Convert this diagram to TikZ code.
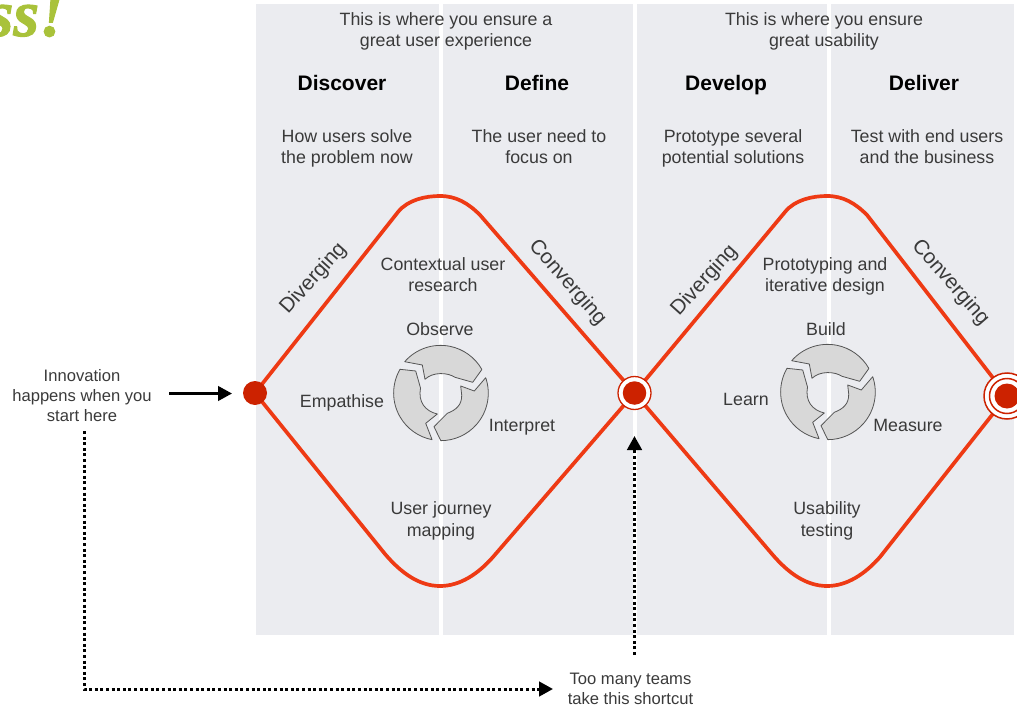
\documentclass[tikz,border=0pt]{standalone}
\usepackage{fontspec}
\setmainfont{Liberation Sans}
\newfontfamily\greenfont[BoldItalicFeatures={FakeBold=1.5}]{Liberation Serif}
\usetikzlibrary{backgrounds,arrows.meta}
\definecolor{panelc}{HTML}{EBECF0}
\definecolor{linered}{HTML}{EE3A14}
\definecolor{dotred}{HTML}{CC2200}
\definecolor{txt}{HTML}{3A3A3A}
\definecolor{gearc}{HTML}{D8D8D8}
\definecolor{gearl}{HTML}{555555}
\definecolor{ssgreen}{HTML}{A9C23A}
\tikzset{
 x=1pt,y=-1pt,
 panel/.style={fill=panelc,draw=none},
 base/.style={align=center,inner sep=0,execute at begin node=\strut,execute at end node=\strut},
 lbl/.style={base,yshift=-2.6pt,text=txt,font=\fontsize{17.8}{21.3}\selectfont},
 diag/.style={base,text=txt,font=\fontsize{20.8}{24}\selectfont},
 small/.style={base,yshift=-2.4pt,text=txt,font=\fontsize{16.6}{20}\selectfont},
 head/.style={base,yshift=-3pt,text=black,font=\bfseries\fontsize{21}{24}\selectfont},
 redline/.style={draw=linered,line width=3.7pt,line join=round},
 gearpart/.style={fill=gearc,draw=gearl,line width=.8pt,line join=round},
 blackarrow/.style={draw=black,line width=2.7pt,-{Triangle[length=14pt,width=14.5pt]}},
 dotarrow/.style={draw=black,line width=3pt,dash pattern=on 3pt off 2.6pt,-{Triangle[length=14pt,width=14.5pt]}},
 reddot/.style={circle,fill=dotred,inner sep=0,minimum size=#1},
}
\newcommand{\gearat}[2]{%
 \begin{scope}[shift={(#1,#2)}]
  \draw[gearpart] (-36.3,-31.3) arc[start angle=221,end angle=330.5,radius=47.5] -- (31.7,-10.7) -- (14,-15.7) .. controls (7,-20.5) and (-8,-21.5) .. (-16,-13.7) -- (-18.7,-28) -- cycle;
  \draw[gearpart] (44.7,-15.3) arc[start angle=-19,end angle=90,radius=47.5] -- (-7,33.7) -- (6.3,20.3) .. controls (15,17) and (21,12) .. (20.7,2) -- (19.7,-7) -- (33.3,-2) -- cycle;
  \draw[gearpart] (-41,-23.7) arc[start angle=210,end angle=101,radius=47.5] -- (-15.3,30.3) -- (-3.7,21) .. controls (-16,18) and (-23,9) .. (-20.5,-5) -- (-25.3,-22) -- cycle;
 \end{scope}}
\begin{document}
\begin{tikzpicture}
\useasboundingbox (0,0) rectangle (1017,706);
\clip (0,0) rectangle (1017,706);
\node[anchor=base east,inner sep=0,text=ssgreen,font=\greenfont\bfseries\itshape\fontsize{66}{66}\selectfont] (brand) at (65,36) {ss!};
% circles
\node[reddot=24pt] (start) at (255,393) {};
\node[circle,fill=white,draw=dotred,line width=1.3pt,inner sep=0,minimum size=33pt] (midring) at (634.5,393) {};
\node[reddot=23.5pt] (mid) at (634.5,393) {};
\node[circle,fill=white,draw=dotred,line width=1.5pt,inner sep=0,minimum size=46pt] (endouter) at (1007,396) {};
\node[circle,fill=white,draw=dotred,line width=1.5pt,inner sep=0,minimum size=35pt] (endring) at (1007,396) {};
\node[reddot=25pt] (endd) at (1007,396) {};
\begin{scope}[on background layer]
 \fill[panel] (256,4) rectangle (439,635);
 \fill[panel] (443,4) rectangle (632.5,635);
 \fill[panel] (637,4) rectangle (827,635);
 \fill[panel] (831,4) rectangle (1014,635);
 \draw[redline] (start.center) -- (398,212) .. controls (408,199.5) and (426,196) .. (440,196) .. controls (456,196) and (468,203) .. (480,215) -- (mid.center);
 \draw[redline] (start.center) -- (385,554) .. controls (402,574) and (420,586) .. (440,586) .. controls (460,586) and (478,574) .. (493,557) -- (mid.center);
 \draw[redline] (mid.center) -- (785,212) .. controls (795,199.5) and (813,196) .. (827,196) .. controls (843,196) and (855,203) .. (867,215) -- (endd.center);
 \draw[redline] (mid.center) -- (772,554) .. controls (789,574) and (807,586) .. (827,586) .. controls (847,586) and (865,574) .. (880,557) -- (endd.center);
\end{scope}
\gearat{441}{393}
\gearat{828}{392}
% top text
\node[lbl] (t1) at (446,30) {This is where you ensure a\\great user experience};
\node[lbl] (t2) at (824,30) {This is where you ensure\\great usability};
\node[head] (h1) at (342,83) {Discover};
\node[head] (h2) at (537,83) {Define};
\node[head] (h3) at (726,83) {Develop};
\node[head] (h4) at (924,83) {Deliver};
\node[lbl] (s1) at (347,147) {How users solve\\the problem now};
\node[lbl] (s2) at (539,147) {The user need to\\focus on};
\node[lbl] (s3) at (733,147) {Prototype several\\potential solutions};
\node[lbl] (s4) at (927,147) {Test with end users\\and the business};
\node[diag,rotate=48] (d1) at (314,279) {Diverging};
\node[diag,rotate=-49] (c1) at (567,283) {Converging};
\node[diag,rotate=48] (d2) at (705,281) {Diverging};
\node[diag,rotate=-49] (c2) at (950,283) {Converging};
\node[lbl] (m1) at (443,275) {Contextual user\\research};
\node[lbl] (m2) at (825,275) {Prototyping and\\iterative design};
\node[lbl] (o) at (440,329) {Observe};
\node[lbl] (e) at (342,401) {Empathise};
\node[lbl] (i) at (522,425) {Interpret};
\node[lbl] (b) at (826,329) {Build};
\node[lbl] (l) at (746,399) {Learn};
\node[lbl] (me) at (908,425) {Measure};
\node[lbl] (u1) at (441,519.5) {User journey\\mapping};
\node[lbl] (u2) at (827,519.5) {Usability\\testing};
\node[small] (inn) at (82,396) {Innovation\\happens when you\\start here};
\node[small] (too) at (630.5,689.5) {Too many teams\\take this shortcut};
\coordinate (a1) at (169,393.5);
\coordinate (a2) at (232,393.5);
\draw[blackarrow] (a1) -- (a2);
\coordinate (v1) at (634.5,655);
\coordinate (v2) at (634.5,436);
\draw[dotarrow] (v1) -- (v2);
\coordinate (p1) at (84,431);
\coordinate (p2) at (84,689);
\coordinate (p3) at (553,689);
\draw[dotarrow] (p1) -- (p2) -- (p3);
\end{tikzpicture}
\end{document}
